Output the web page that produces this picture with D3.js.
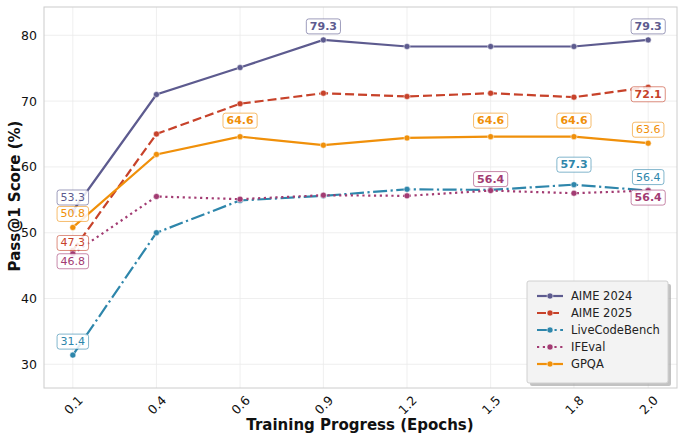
<!DOCTYPE html>
<html>
<head>
<meta charset="utf-8">
<script src="https://d3js.org/d3.v7.min.js"></script>
<style>
  body { margin: 0; background: #fff; }
  text { font-family: "DejaVu Sans", sans-serif; }
</style>
</head>
<body>
<div id="chart"></div>
<script>
// epochs at each checkpoint and the labels printed under them
var epochs = [0.133, 0.4, 0.667, 0.933, 1.2, 1.467, 1.733, 1.97];
var epochLabels = ["0.1", "0.4", "0.6", "0.9", "1.2", "1.5", "1.8", "2.0"];
var yTicks = [30, 40, 50, 60, 70, 80];

var seriesNames = ["AIME 2024", "AIME 2025", "LiveCodeBench", "IFEval", "GPQA"];
var aime2024 = [53.3, 71.0, 75.1, 79.3, 78.3, 78.3, 78.3, 79.3];
var aime2025 = [47.3, 65.0, 69.6, 71.2, 70.7, 71.2, 70.6, 72.1];
var liveCodeBench = [31.4, 50.0, 54.9, 55.6, 56.6, 56.5, 57.3, 56.4];
var ifEval = [46.8, 55.5, 55.1, 55.7, 55.6, 56.4, 56.0, 56.4];
var gpqa = [50.8, 61.9, 64.6, 63.3, 64.4, 64.6, 64.6, 63.6];

var colors = ["#5d5b8f", "#c7422a", "#2e86ab", "#a23b72", "#f0900a"];
var dashes = [null, "9,4", "14,3.5,2.2,3.5", "2.2,3.6", null];

// label offset (px, from point) where the default "above" spot was moved
var labelShift = { "1-0": -7.5, "3-0": 7.5, "1-7": 7, "3-7": 7, "2-6": -20, "4-2": -16, "4-5": -16, "4-6": -16, "3-5": -11.5 };

var W = 678, H = 433;
var mLeft = 44, mRight = 677, mTop = 7, mBottom = 388;

var svg = d3.select("#chart").append("svg")
  .attr("width", W).attr("height", H);

var x = d3.scaleLinear().domain([0.041, 2.062]).range([mLeft, mRight]);
var y = d3.scaleLinear().domain([26.4, 84.3]).range([mBottom, mTop]);

var data = [aime2024, aime2025, liveCodeBench, ifEval, gpqa].map(function (vals, i) {
  return { name: seriesNames[i], color: colors[i], dash: dashes[i],
    points: vals.map(function (v, j) { return { x: epochs[j], y: v, i: j }; }) };
});

// grid
var grid = svg.append("g");
grid.selectAll(".gx").data(epochs).enter().append("line")
  .attr("x1", function (d) { return x(d); }).attr("x2", function (d) { return x(d); })
  .attr("y1", mTop).attr("y2", mBottom)
  .attr("stroke", "#ebebeb").attr("stroke-width", 0.8);
grid.selectAll(".gy").data(yTicks).enter().append("line")
  .attr("y1", function (d) { return y(d); }).attr("y2", function (d) { return y(d); })
  .attr("x1", mLeft).attr("x2", mRight)
  .attr("stroke", "#ebebeb").attr("stroke-width", 0.8);

// axes
var xAxis = svg.append("g").attr("transform", "translate(0," + mBottom + ")")
  .call(d3.axisBottom(x).tickValues(epochs).tickSize(0)
    .tickFormat(function (d, i) { return epochLabels[i]; }));
xAxis.select(".domain").remove();
xAxis.selectAll("text")
  .attr("font-size", 12.5).attr("fill", "#111")
  .attr("text-anchor", "middle").attr("dy", null).attr("y", 0)
  .attr("dominant-baseline", "central")
  .attr("transform", "translate(0,17) rotate(-45)");

var yAxis = svg.append("g").attr("transform", "translate(" + mLeft + ",0)")
  .call(d3.axisLeft(y).tickValues(yTicks).tickSize(0).tickPadding(7));
yAxis.select(".domain").remove();
yAxis.selectAll("text").attr("font-size", 12.5).attr("fill", "#111");

svg.append("rect")
  .attr("x", mLeft).attr("y", mTop)
  .attr("width", mRight - mLeft).attr("height", mBottom - mTop)
  .attr("fill", "none").attr("stroke", "#cccccc").attr("stroke-width", 1);

svg.append("text")
  .attr("x", 360).attr("y", 430)
  .attr("text-anchor", "middle").attr("font-size", 15).attr("font-weight", "bold")
  .attr("fill", "#111").text("Training Progress (Epochs)");

svg.append("text")
  .attr("transform", "translate(20,196) rotate(-90)")
  .attr("text-anchor", "middle").attr("font-size", 15).attr("font-weight", "bold")
  .attr("fill", "#111").text("Pass@1 Score (%)");

// lines
var line = d3.line().x(function (d) { return x(d.x); }).y(function (d) { return y(d.y); });

var sg = svg.append("g").selectAll("g").data(data).enter().append("g");
sg.append("path")
  .attr("d", function (d) { return line(d.points); })
  .attr("fill", "none")
  .attr("stroke", function (d) { return d.color; })
  .attr("stroke-width", 2.2)
  .attr("stroke-dasharray", function (d) { return d.dash; });
sg.selectAll("circle").data(function (d) { return d.points.map(function (p) { return { p: p, c: d.color }; }); })
  .enter().append("circle")
  .attr("cx", function (d) { return x(d.p.x); })
  .attr("cy", function (d) { return y(d.p.y); })
  .attr("r", 3)
  .attr("fill", function (d) { return d.c; })
  .attr("stroke", "#fff").attr("stroke-width", 0.5);

// annotations: first, last and every max point (max in bold)
var notes = [];
data.forEach(function (s, si) {
  var mx = d3.max(s.points, function (p) { return p.y; });
  s.points.forEach(function (p, j) {
    var isMax = p.y === mx;
    if (j === 0 || j === s.points.length - 1 || isMax) {
      var key = si + "-" + j;
      notes.push({ p: p, color: s.color, bold: isMax,
        dy: labelShift[key] !== undefined ? labelShift[key] : -13.5 });
    }
  });
});

var ng = svg.append("g").selectAll("g").data(notes).enter().append("g")
  .attr("transform", function (d) { return "translate(" + x(d.p.x) + "," + (y(d.p.y) + d.dy) + ")"; });
ng.append("rect")
  .attr("fill", "#fff").attr("fill-opacity", 0.85)
  .attr("stroke", function (d) { return d.color; }).attr("stroke-opacity", 0.6)
  .attr("stroke-width", 1).attr("rx", 2.5);
ng.append("text")
  .attr("text-anchor", "middle").attr("dominant-baseline", "central")
  .attr("font-size", 11)
  .attr("font-weight", function (d) { return d.bold ? "bold" : "normal"; })
  .attr("fill", function (d) { return d.color; })
  .text(function (d) { return d.p.y.toFixed(1); });
ng.each(function () {
  var g = d3.select(this);
  var w = g.select("text").node().getComputedTextLength();
  g.select("rect").attr("x", -w / 2 - 3.5).attr("y", -7.5).attr("width", w + 7).attr("height", 15);
});

// legend
var lg = svg.append("g").attr("transform", "translate(527,281)");
lg.append("rect").attr("x", 3).attr("y", 3).attr("width", 141).attr("height", 102)
  .attr("rx", 2).attr("fill", "#9a9a9a").attr("opacity", 0.6);
lg.append("rect").attr("width", 141).attr("height", 102).attr("rx", 2)
  .attr("fill", "#f3f3f3").attr("stroke", "#d0d0d0").attr("stroke-width", 1);
var li = lg.selectAll(".item").data(data).enter().append("g")
  .attr("transform", function (d, i) { return "translate(0," + (15 + i * 17) + ")"; });
li.append("line").attr("x1", 10).attr("x2", 36).attr("y1", 0).attr("y2", 0)
  .attr("stroke", function (d) { return d.color; }).attr("stroke-width", 2.2)
  .attr("stroke-dasharray", function (d) { return d.dash; });
li.append("circle").attr("cx", 23).attr("cy", 0).attr("r", 3)
  .attr("fill", function (d) { return d.color; }).attr("stroke", "#fff").attr("stroke-width", 0.5);
li.append("text").attr("x", 44).attr("y", 0).attr("dominant-baseline", "central")
  .attr("font-size", 11.5).attr("fill", "#222")
  .text(function (d) { return d.name; });
</script>
</body>
</html>
